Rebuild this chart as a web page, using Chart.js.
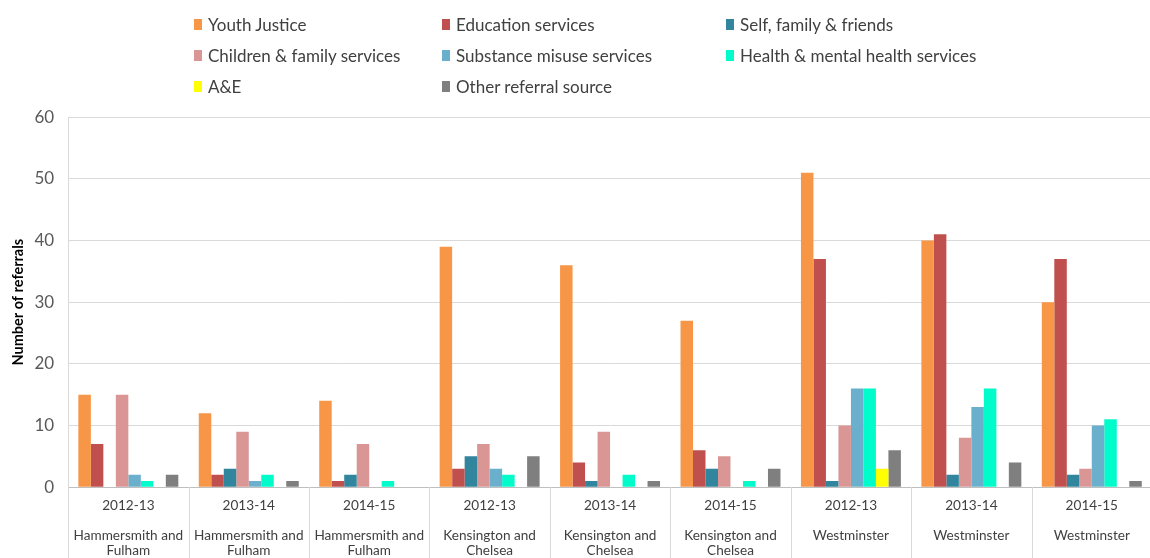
<!DOCTYPE html>
<html><head><meta charset="utf-8">
<script src="https://cdn.jsdelivr.net/npm/chart.js@4.4.1/dist/chart.umd.min.js"></script>
<style>
html,body{margin:0;padding:0;background:#fff;overflow:hidden;width:1150px;height:558px;}
#legend{position:absolute;left:194px;top:14px;width:840px;display:grid;grid-template-columns:248px 284px 300px;row-gap:11px;font-family:Lato,"Open Sans",sans-serif;font-size:17px;color:#404040;z-index:2;}
#legend .it{display:flex;align-items:center;height:20px;white-space:nowrap;}
#legend .sw{width:8px;height:11px;margin-right:6px;margin-left:0px;display:inline-block;}
#wrap{position:absolute;left:0;top:93px;width:1152px;height:468px;}
</style></head>
<body>
<div id="legend"></div>
<div id="wrap"><canvas id="c"></canvas></div>
<script>
const categories = [
  ["2012-13","","Hammersmith and","Fulham"],
  ["2013-14","","Hammersmith and","Fulham"],
  ["2014-15","","Hammersmith and","Fulham"],
  ["2012-13","","Kensington and","Chelsea"],
  ["2013-14","","Kensington and","Chelsea"],
  ["2014-15","","Kensington and","Chelsea"],
  ["2012-13","","Westminster"],
  ["2013-14","","Westminster"],
  ["2014-15","","Westminster"]
];
const seriesNames = ["Youth Justice","Education services","Self, family & friends","Children & family services","Substance misuse services","Health & mental health services","A&E","Other referral source"];
const youthJustice   = [15,12,14,39,36,27,51,40,30];
const education      = [7,2,1,3,4,6,37,41,37];
const selfFamily     = [0,3,2,5,1,3,1,2,2];
const childrenFamily = [15,9,7,7,9,5,10,8,3];
const substance      = [2,1,0,3,0,0,16,13,10];
const healthMental   = [1,2,1,2,2,1,16,16,11];
const aAndE          = [0,0,0,0,0,0,3,0,0];
const otherSource    = [2,1,0,5,1,3,6,4,1];
const yTicks = [0,10,20,30,40,50,60];
const colors = ["#F79646","#C0504D","#31859C","#D99694","#6AB0CC","#00FCCA","#FFFF00","#7F7F7F"];
const values = [youthJustice,education,selfFamily,childrenFamily,substance,healthMental,aAndE,otherSource];

const legend = document.getElementById('legend');
seriesNames.forEach((n,i)=>{
  const d=document.createElement('div');d.className='it';
  const s=document.createElement('span');s.className='sw';s.style.background=colors[i];
  d.appendChild(s);d.appendChild(document.createTextNode(n));legend.appendChild(d);
});

const dividers = {
  id:'dividers',
  afterDraw(chart){
    const x=chart.scales.x, a=chart.chartArea, ctx=chart.ctx;
    const n=categories.length;
    const step=(x.getPixelForValue(n-1)-x.getPixelForValue(0))/(n-1);
    ctx.save();ctx.strokeStyle='#d9d9d9';ctx.lineWidth=1;
    for(let i=0;i<=n;i++){
      const px=Math.round(x.getPixelForValue(0)-step/2+i*step)+0.5;
      ctx.beginPath();ctx.moveTo(px,a.bottom);ctx.lineTo(px,chart.height);ctx.stroke();
    }
    ctx.restore();
  }
};

new Chart(document.getElementById('c'),{
  type:'bar',
  data:{labels:categories,datasets:seriesNames.map((n,i)=>({label:n,data:values[i],backgroundColor:colors[i],borderWidth:0,barPercentage:1,categoryPercentage:0.83}))},
  options:{
    responsive:true,maintainAspectRatio:false,animation:false,
    layout:{padding:{top:0,left:10,right:0,bottom:0}},
    plugins:{legend:{display:false},tooltip:{enabled:false}},
    scales:{
      x:{
        grid:{display:false},
        border:{display:true,color:'#bfbfbf'},
        ticks:{padding:3,color:'#404040',font:{family:'Lato, "Open Sans", sans-serif',size:13.6,lineHeight:1.1},maxRotation:0,autoSkip:false}
      },
      y:{
        min:0,max:60,
        afterBuildTicks:(s)=>{s.ticks=yTicks.map(v=>({value:v}));},
        grid:{color:'#d9d9d9',drawTicks:false},
        border:{display:true,color:'#d9d9d9'},
        ticks:{padding:14,color:'#595959',font:{family:'Lato, "Open Sans", sans-serif',size:17}},
        title:{display:true,text:'Number of referrals',color:'#000',font:{family:'Lato, "Open Sans", sans-serif',size:14.5,weight:'bold'},padding:{top:0,bottom:-7}}
      }
    }
  },
  plugins:[dividers]
});
</script>
</body></html>
